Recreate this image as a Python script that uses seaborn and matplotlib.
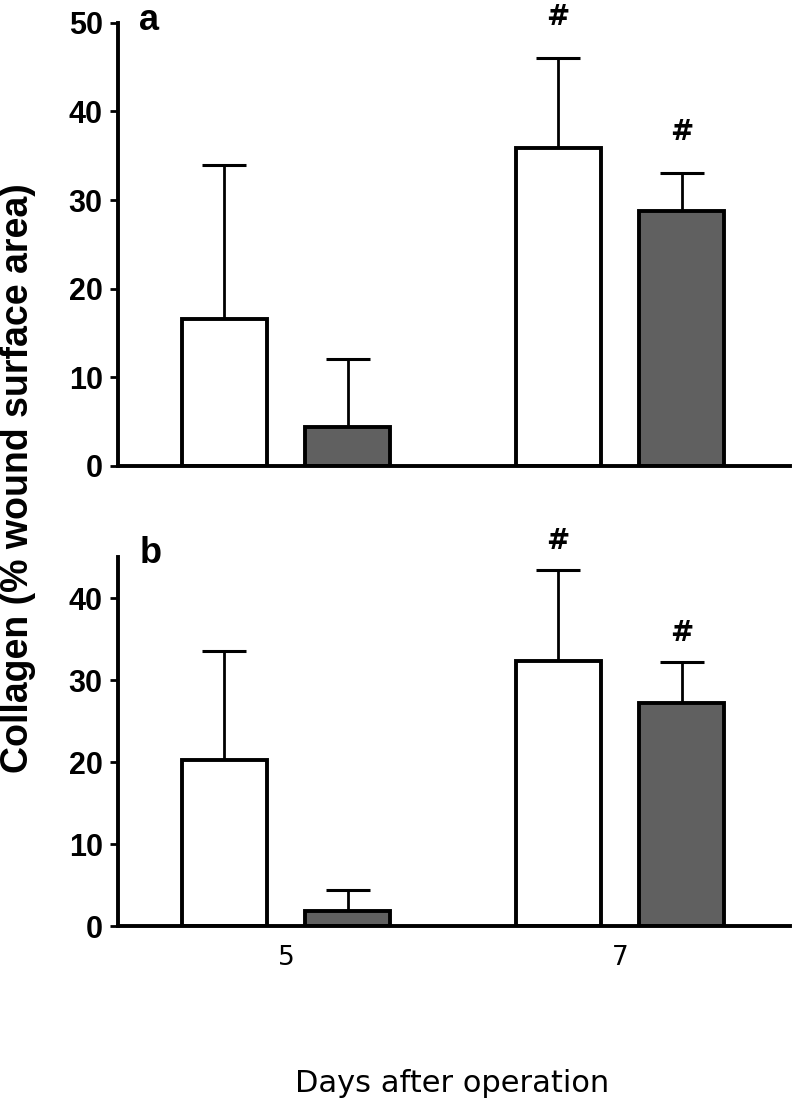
import numpy as np
import pandas as pd
import matplotlib
matplotlib.use("Agg")
import matplotlib.pyplot as plt
import seaborn as sns

# ---- data ----
days = ["5", "7"]
groups = ["Group 1", "Group 2"]
a_mean_g1 = [16.6, 35.9]
a_sd_g1 = [17.3, 10.1]
a_mean_g2 = [4.4, 28.8]
a_sd_g2 = [7.7, 4.2]
b_mean_g1 = [20.2, 32.3]
b_sd_g1 = [13.3, 11.1]
b_mean_g2 = [1.8, 27.2]
b_sd_g2 = [2.6, 5.0]
a_sig_g1 = ["", "#"]
a_sig_g2 = ["", "#"]
b_sig_g1 = ["", "#"]
b_sig_g2 = ["", "#"]
a_yticks = [0, 10, 20, 30, 40, 50]
b_yticks = [0, 10, 20, 30, 40]

sns.set_theme(style="white")
plt.rcParams["font.family"] = ["Liberation Sans", "DejaVu Sans"]
plt.rcParams["text.color"] = "black"

W, H = 793, 1109
fig = plt.figure(figsize=(W / 100, H / 100), dpi=100)

def frac_box(x0, x1, ytop, ybot):
    return [x0 / W, 1 - ybot / H, (x1 - x0) / W, (ybot - ytop) / H]

ax_a = fig.add_axes(frac_box(118, 790, 22.7, 466))
ax_b = fig.add_axes(frac_box(118, 790, 557, 926))

palette = ["white", "#606060"]

def panel(ax, m1, s1, m2, s2, sig1, sig2, ylim, yticks, sig_off, show_x):
    df = pd.DataFrame({
        "day": days * 2,
        "group": [groups[0]] * 2 + [groups[1]] * 2,
        "mean": list(m1) + list(m2),
    })
    sns.barplot(data=df, x="day", y="mean", hue="group", palette=palette,
                edgecolor="black", linewidth=2.8, width=0.74, gap=0.31,
                errorbar=None, legend=False, ax=ax, zorder=2)
    for cont, sds, sigs in zip(ax.containers, [s1, s2], [sig1, sig2]):
        xs = [b.get_x() + b.get_width() / 2 for b in cont]
        ys = [b.get_height() for b in cont]
        ax.errorbar(xs, ys, yerr=[np.zeros(len(sds)), sds], fmt="none",
                    ecolor="black", elinewidth=2.0, capsize=15.5,
                    capthick=2.2, zorder=1)
        for x, y, sd, s in zip(xs, ys, sds, sigs):
            if s:
                ax.annotate(s, xy=(x, y + sd), xytext=(0, sig_off),
                            textcoords="offset points", ha="center",
                            va="center", fontsize=20, fontweight="bold",
                            family="DejaVu Sans", color="black",
                            annotation_clip=False)
    ax.set_xlim(-0.503, 1.509)
    ax.set_ylim(*ylim)
    ax.set_yticks(yticks)
    ax.set_xlabel("")
    ax.set_ylabel("")
    sns.despine(ax=ax)
    for sp in ["left", "bottom"]:
        ax.spines[sp].set_linewidth(2.8)
        ax.spines[sp].set_color("black")
    ax.tick_params(axis="y", left=True, length=6, width=2.0, direction="out",
                   labelsize=22, pad=5, colors="black")
    for lab in ax.get_yticklabels():
        lab.set_fontweight("bold")
    if show_x:
        ax.tick_params(axis="x", bottom=False, labelsize=19, pad=8,
                       colors="black")
        for lab in ax.get_xticklabels():
            lab.set_family("DejaVu Sans")
    else:
        ax.tick_params(axis="x", bottom=False, labelbottom=False)

panel(ax_a, a_mean_g1, a_sd_g1, a_mean_g2, a_sd_g2, a_sig_g1, a_sig_g2,
      (0, 50), a_yticks, 29.5, False)
panel(ax_b, b_mean_g1, b_sd_g1, b_mean_g2, b_sd_g2, b_sig_g1, b_sig_g2,
      (0, 45), b_yticks, 21, True)

fig.text(149 / W, 1 - 21 / H, "a", fontsize=26, fontweight="bold",
         color="black", ha="center", va="center")
fig.text(151 / W, 1 - 553 / H, "b", fontsize=26, fontweight="bold",
         color="black", ha="center", va="center")
fig.text(18 / W, 1 - 478 / H, "Collagen (% wound surface area)",
         rotation=90, fontsize=27, fontweight="bold", color="black",
         ha="center", va="center")
fig.text(452 / W, 1 - 1083 / H, "Days after operation", fontsize=22,
         family="DejaVu Sans", color="black", ha="center", va="center")

fig.savefig("out.png", dpi=100)
